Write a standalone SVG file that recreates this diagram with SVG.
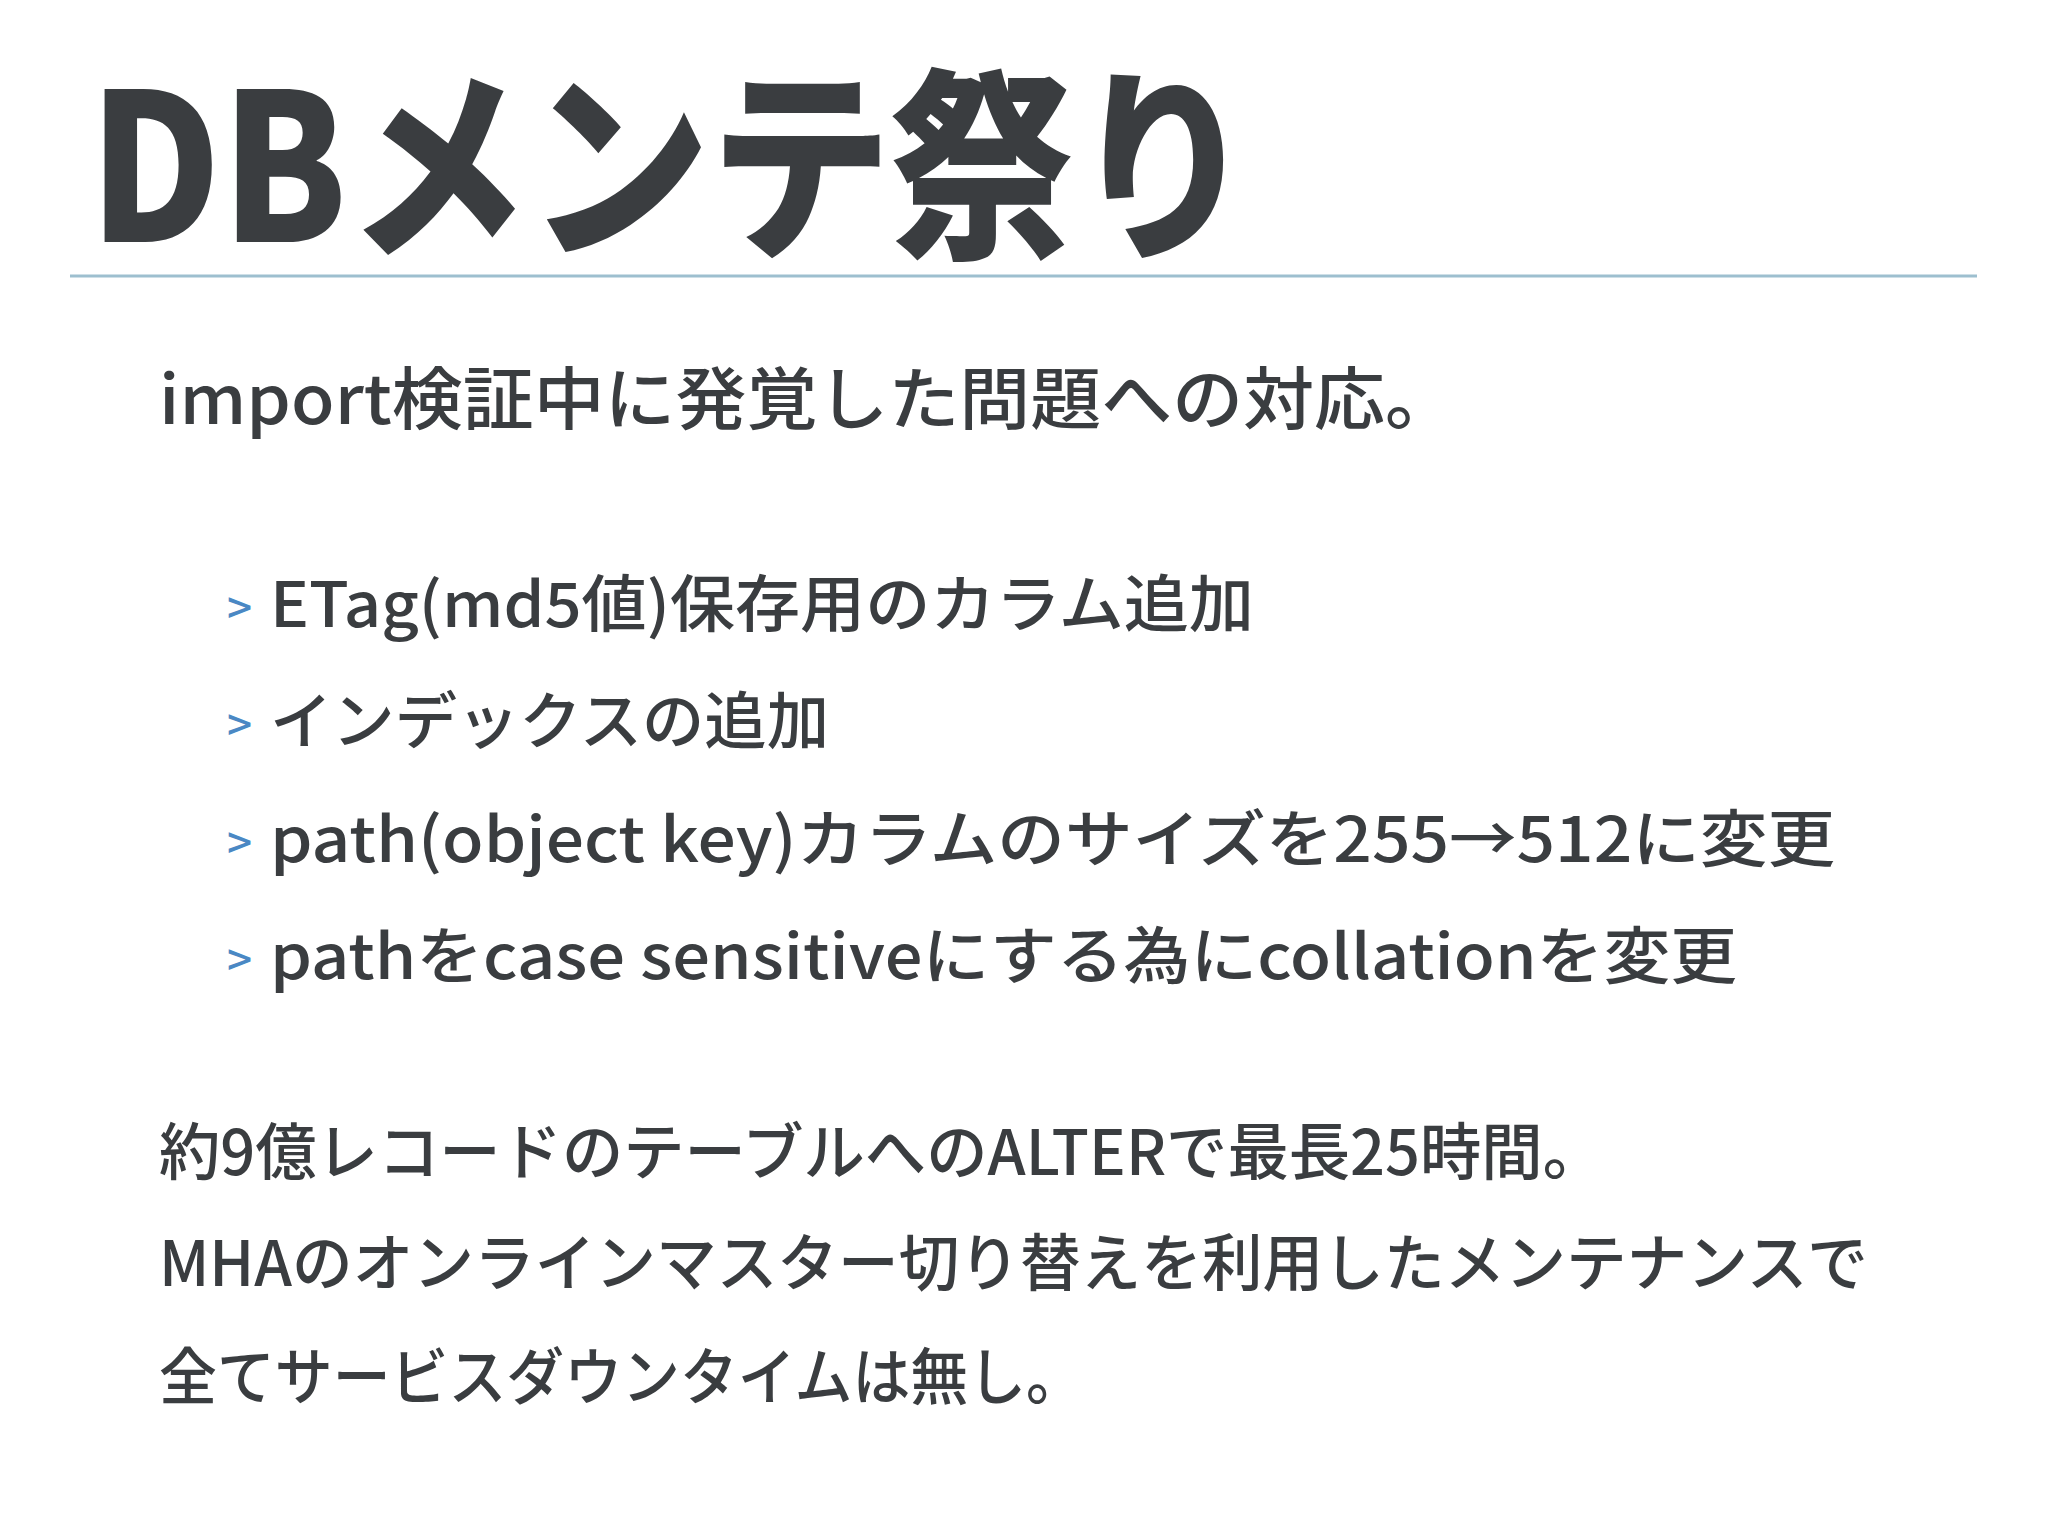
<svg xmlns="http://www.w3.org/2000/svg" width="2048" height="1536" viewBox="0 0 2048 1536">
<style>
text{font-family:"Noto Sans CJK JP","Noto Sans",sans-serif;fill:#3a3d40;font-weight:500}
.b{fill:#4a88c4;font-size:44px}
.t{font-size:62px}
</style>
<rect width="2048" height="1536" fill="#ffffff"/>
<g id="title"><text x="89" y="242" font-size="205" font-weight="900" style="font-weight:900" textLength="1165" lengthAdjust="spacingAndGlyphs">DBメンテ祭り</text></g>
<line x1="70" y1="276" x2="1977" y2="276" stroke="#9dbfcf" stroke-width="3"/>
<g id="intro"><text class="t" x="159" y="424" font-size="68" style="font-size:68px" textLength="1297" lengthAdjust="spacingAndGlyphs">import検証中に発覚した問題への対応。</text></g>
<g id="bullets">
<text class="b" x="227" y="624">&gt;</text>
<text class="t" x="270" y="627" textLength="984" lengthAdjust="spacingAndGlyphs">ETag(md5値)保存用のカラム追加</text>
<text class="b" x="227" y="741">&gt;</text>
<text class="t" x="270" y="744" textLength="559" lengthAdjust="spacingAndGlyphs">インデックスの追加</text>
<text class="b" x="227" y="859">&gt;</text>
<text class="t" x="270" y="862" textLength="1565" lengthAdjust="spacingAndGlyphs">path(object key)カラムのサイズを255→512に変更</text>
<text class="b" x="227" y="976">&gt;</text>
<text class="t" x="270" y="979" textLength="1467" lengthAdjust="spacingAndGlyphs">pathをcase sensitiveにする為にcollationを変更</text>
</g>
<g id="summary">
<text class="t" x="159" y="1175" textLength="1445" lengthAdjust="spacingAndGlyphs">約9億レコードのテーブルへのALTERで最長25時間。</text>
<text class="t" x="159" y="1286" textLength="1709" lengthAdjust="spacingAndGlyphs">MHAのオンラインマスター切り替えを利用したメンテナンスで</text>
<text class="t" x="159" y="1400" textLength="925" lengthAdjust="spacingAndGlyphs">全てサービスダウンタイムは無し。</text>
</g>
</svg>
